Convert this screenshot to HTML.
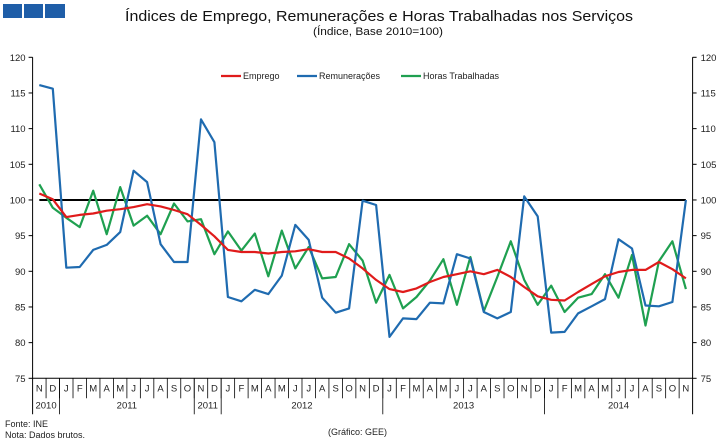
<!DOCTYPE html>
<html><head><meta charset="utf-8"><style>
body{margin:0;background:#fff}
svg{display:block;font-family:"Liberation Sans",sans-serif}
</style></head><body>
<svg id="chart" width="723" height="444" viewBox="0 0 723 444" xmlns="http://www.w3.org/2000/svg">
<rect x="3" y="4" width="19" height="14" fill="#1f5ea8"/>
<rect x="24" y="4" width="19" height="14" fill="#1f5ea8"/>
<rect x="45" y="4" width="20" height="14" fill="#1f5ea8"/>
<text x="379" y="21" text-anchor="middle" font-size="15" textLength="508" lengthAdjust="spacingAndGlyphs" fill="#111">Índices de Emprego, Remunerações e Horas Trabalhadas nos Serviços</text>
<text x="378" y="35" text-anchor="middle" font-size="11" textLength="130" lengthAdjust="spacingAndGlyphs" fill="#111">(Índice, Base 2010=100)</text>
<g id="axes"></g>
<g id="series"></g>
<g font-size="9" fill="#222">
<line x1="221" y1="76" x2="241" y2="76" stroke="#e01b1b" stroke-width="2.2"/>
<text x="243" y="79">Emprego</text>
<line x1="297" y1="76" x2="317" y2="76" stroke="#1f6bb0" stroke-width="2.2"/>
<text x="319" y="79">Remunerações</text>
<line x1="401" y1="76" x2="421" y2="76" stroke="#1fa050" stroke-width="2.2"/>
<text x="423" y="79">Horas Trabalhadas</text>
</g>
<text x="5" y="427" font-size="9" fill="#222">Fonte: INE</text>
<text x="5" y="438" font-size="9" fill="#222">Nota: Dados brutos.</text>
<text x="328" y="435" font-size="9" fill="#222">(Gráfico: GEE)</text>
</svg>
<script>
const months=["N","D","J","F","M","A","M","J","J","A","S","O","N","D","J","F","M","A","M","J","J","A","S","O","N","D","J","F","M","A","M","J","J","A","S","O","N","D","J","F","M","A","M","J","J","A","S","O","N"];
const yearLabels=["2010","2011","2011","2012","2013","2014"];
const yearStarts=[0,2,12,14,26,38];
const yTicks=[75,80,85,90,95,100,105,110,115,120];
const emprego=[100.9,100.1,97.6,97.9,98.1,98.5,98.7,99.0,99.4,99.1,98.6,98.0,96.5,94.9,93.0,92.7,92.7,92.5,92.7,92.8,93.1,92.7,92.7,91.8,90.4,88.8,87.5,87.1,87.6,88.5,89.2,89.6,90.0,89.6,90.2,89.2,87.8,86.5,86.0,85.9,87.1,88.2,89.3,89.9,90.2,90.2,91.3,90.3,89.0];
const remuneracoes=[116.1,115.6,90.5,90.6,93.0,93.7,95.5,104.1,102.5,93.8,91.3,91.3,111.3,108.1,86.4,85.8,87.4,86.8,89.4,96.5,94.4,86.3,84.2,84.8,99.9,99.3,80.8,83.4,83.3,85.6,85.5,92.4,91.8,84.3,83.4,84.3,100.5,97.7,81.4,81.5,84.1,85.1,86.1,94.5,93.2,85.2,85.1,85.7,100.0];
const horas=[102.2,98.9,97.5,96.2,101.3,95.2,101.8,96.4,97.8,95.2,99.5,97.0,97.3,92.4,95.6,92.9,95.3,89.3,95.7,90.4,93.4,89.0,89.2,93.8,91.5,85.6,89.5,84.8,86.4,88.7,91.7,85.3,92.0,84.4,89.2,94.2,88.8,85.3,88.0,84.3,86.3,86.8,89.6,86.3,92.3,82.4,91.4,94.2,87.5];
const refLevel=100;

const NS="http://www.w3.org/2000/svg";
const X0=32.6,X1=692.6,YT=57.3,YB=378.3,VMIN=75,VMAX=120;
const n=months.length,bw=(X1-X0)/n;
function xC(i){return X0+(i+0.5)*bw;}
function xE(i){return X0+i*bw;}
function yV(v){return YB-(v-VMIN)/(VMAX-VMIN)*(YB-YT);}
function mk(tag,attrs,parent){const e=document.createElementNS(NS,tag);for(const k in attrs)e.setAttribute(k,attrs[k]);parent.appendChild(e);return e;}
const ax=document.getElementById('axes'),sr=document.getElementById('series');
let e;
e=mk('line',{x1:X0,y1:YT,x2:X0,y2:YB+36,stroke:'#000','stroke-width':1},ax);


e=mk('line',{x1:X1,y1:YT,x2:X1,y2:YB+36,stroke:'#000','stroke-width':1},ax);


e=mk('line',{x1:X0,y1:YB,x2:X1,y2:YB,stroke:'#000','stroke-width':1},ax);


yTicks.forEach(t=>{
  const y=yV(t);
  mk('line',{x1:X0-4,y1:y,x2:X0,y2:y,stroke:'#000'},ax);
  mk('line',{x1:X1,y1:y,x2:X1+4,y2:y,stroke:'#000'},ax);
  e=mk('text',{x:X0-7,y:y+3.5,'text-anchor':'end','font-size':9.5,fill:'#222'},ax);e.textContent=t;
  
  
  e=mk('text',{x:X1+8,y:y+3.5,'font-size':9.5,fill:'#222'},ax);e.textContent=t;
  
  
});
months.forEach((m,i)=>{
  if(i>0)mk('line',{x1:xE(i),y1:YB,x2:xE(i),y2:YB+20,stroke:'#000','stroke-width':0.8},ax);
  e=mk('text',{x:xC(i),y:YB+13,'text-anchor':'middle','font-size':9.5,fill:'#222'},ax);e.textContent=m;
  
  
});
yearStarts.forEach((s,k)=>{
  const end=k+1<yearStarts.length?yearStarts[k+1]:n;
  if(s>0)mk('line',{x1:xE(s),y1:YB,x2:xE(s),y2:YB+36,stroke:'#000','stroke-width':0.8},ax);
  e=mk('text',{x:(xE(s)+xE(end))/2,y:YB+30,'text-anchor':'middle','font-size':9.5,fill:'#222'},ax);e.textContent=yearLabels[k];
  
  
});
e=mk('line',{x1:xC(0),y1:yV(refLevel),x2:xC(n-1),y2:yV(refLevel),stroke:'#000','stroke-width':2},sr);


function line(data,color,name){
  const p=mk('polyline',{points:data.map((v,i)=>xC(i).toFixed(1)+','+yV(v).toFixed(1)).join(' '),fill:'none',stroke:color,'stroke-width':2.2,'stroke-linejoin':'round'},sr);
  
  
}
line(horas,'#1fa050','horas-trabalhadas-line');
line(remuneracoes,'#1f6bb0','remuneracoes-line');
line(emprego,'#e01b1b','emprego-line');
</script>
</body></html>
